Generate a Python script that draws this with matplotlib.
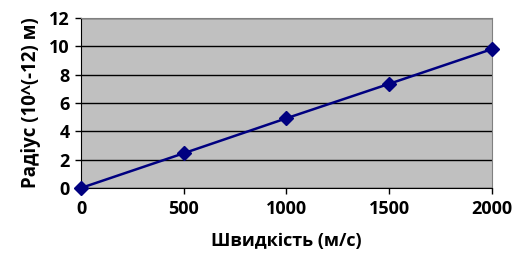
import matplotlib.pyplot as plt

# data
speed = [0, 500, 1000, 1500, 2000]
radius = [0, 2.45, 4.92, 7.35, 9.8]
x_ticks = [0, 500, 1000, 1500, 2000]
y_ticks = [0, 2, 4, 6, 8, 10, 12]

plt.rcParams['font.family'] = ['Open Sans', 'DejaVu Sans']
plt.rcParams['font.weight'] = 'bold'

fig = plt.figure(figsize=(5.14, 2.6), dpi=100)
ax = fig.add_axes([0.1576, 0.277, 0.7994, 0.654])
ax.set_facecolor('#C0C0C0')

ax.plot(speed, radius, color='#000080', linewidth=1.8, marker='D',
        markersize=7, zorder=3, clip_on=False)

ax.set_xlim(0, 2000)
ax.set_ylim(0, 12)
ax.set_xticks(x_ticks)
ax.set_yticks(y_ticks)
ax.yaxis.grid(True, color='black', linewidth=1)
ax.set_axisbelow(True)

for s in ['top', 'right']:
    ax.spines[s].set_color('#808080')
for s in ['left', 'bottom']:
    ax.spines[s].set_color('black')

ax.tick_params(axis='both', labelsize=13, length=4, width=1, pad=5)
ax.tick_params(axis='y', pad=4)
ax.set_xlabel('Швидкість (м/с)', fontsize=13, fontweight='bold', labelpad=10)
ax.set_ylabel('Радіус (10^(-12) м)', fontsize=13.5, fontweight='bold', labelpad=6)

plt.savefig('out.png', dpi=100)
